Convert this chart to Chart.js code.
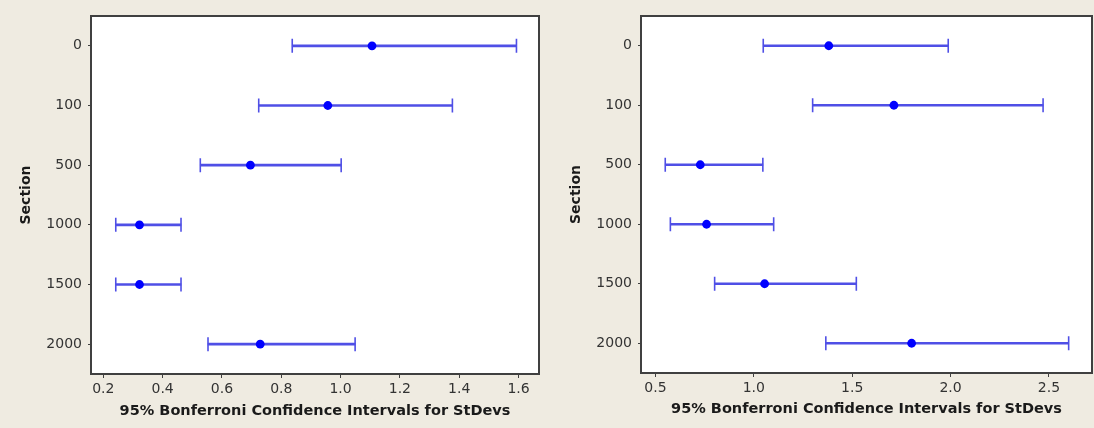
<!DOCTYPE html>
<html>
<head>
<meta charset="utf-8">
<script src="https://cdn.jsdelivr.net/npm/chart.js@4/dist/chart.umd.min.js"></script>
<style>
  html, body { margin: 0; padding: 0; background: #efebe1; }
  .panel { position: absolute; top: 0; width: 547px; height: 428px; }
  #left { left: 0; }
  #right { left: 547px; }
</style>
</head>
<body>
<div class="panel" id="left"><canvas id="chartLeft"></canvas></div>
<div class="panel" id="right"><canvas id="chartRight"></canvas></div>
<script>
const sections = ["0", "100", "500", "1000", "1500", "2000"];

// left panel
const leftLower = [0.837, 0.724, 0.527, 0.242, 0.242, 0.553];
const leftStdev = [1.106, 0.957, 0.696, 0.322, 0.322, 0.729];
const leftUpper = [1.593, 1.377, 1.002, 0.462, 0.462, 1.049];
const leftTicks = [0.2, 0.4, 0.6, 0.8, 1.0, 1.2, 1.4, 1.6];

// right panel
const rightLower = [1.048, 1.299, 0.550, 0.576, 0.801, 1.366];
const rightStdev = [1.381, 1.712, 0.728, 0.760, 1.055, 1.802];
const rightUpper = [1.988, 2.470, 1.046, 1.101, 1.521, 2.600];
const rightTicks = [0.5, 1.0, 1.5, 2.0, 2.5];

const lineColor = "#4f4fe6";
const dotColor = "#0000ff";
const axisColor = "#404040";
const fontFamily = "'DejaVu Sans', Verdana, sans-serif";

// white plot area with a dark frame
const framePlugin = {
  id: "frame",
  beforeDraw(chart) {
    const {ctx, chartArea: a} = chart;
    ctx.save();
    ctx.fillStyle = "#ffffff";
    ctx.fillRect(a.left, a.top, a.right - a.left, a.bottom - a.top);
    ctx.restore();
  },
  afterDraw(chart) {
    const {ctx, chartArea: a} = chart;
    ctx.save();
    ctx.strokeStyle = axisColor;
    ctx.lineWidth = 2;
    ctx.strokeRect(a.left, a.top, a.right - a.left, a.bottom - a.top);
    ctx.restore();
  }
};

function makeChart(id, lower, stdev, upper, ticks, xMin, xMax, geo) {
  const pts = vals => vals.map((v, i) => ({x: v, y: sections[i]}));
  return new Chart(document.getElementById(id), {
    type: "bar",
    data: {
      labels: sections,
      datasets: [
        {
          type: "line",
          data: pts(stdev),
          showLine: false,
          pointStyle: "circle",
          pointRadius: 4.4,
          pointBackgroundColor: dotColor,
          pointBorderWidth: 0,
          order: 0
        },
        {
          type: "line",
          data: pts(lower).concat(pts(upper)),
          showLine: false,
          pointStyle: "line",
          pointRotation: 90,
          pointRadius: 7,
          pointBorderColor: lineColor,
          pointBorderWidth: 1.6,
          order: 1
        },
        {
          data: lower.map((lo, i) => [lo, upper[i]]),
          backgroundColor: lineColor,
          borderWidth: 0,
          barThickness: 2,
          order: 2
        }
      ]
    },
    options: {
      indexAxis: "y",
      responsive: true,
      maintainAspectRatio: false,
      animation: false,
      layout: {
        autoPadding: false,
        padding: {top: geo.top, right: geo.right, left: 0, bottom: 0}
      },
      scales: {
        x: {
          type: "linear",
          min: xMin,
          max: xMax,
          afterBuildTicks: s => { s.ticks = ticks.map(v => ({value: v})); },
          afterFit: s => {
            s.height = geo.xHeight;
            s.paddingLeft = 0;
            s.paddingRight = 0;
          },
          grid: {drawOnChartArea: false, drawTicks: true, tickLength: 4, color: axisColor},
          border: {display: false},
          ticks: {
            color: "#333333",
            padding: 3,
            maxRotation: 0,
            font: {family: fontFamily, size: 14},
            callback: v => v.toFixed(1)
          },
          title: {
            display: true,
            text: "95% Bonferroni Confidence Intervals for StDevs",
            color: "#1a1a1a",
            font: {family: fontFamily, size: 14.5, weight: "bold"},
            padding: {top: 0, bottom: geo.xTitlePad}
          }
        },
        y: {
          type: "category",
          offset: true,
          afterFit: s => { s.width = geo.yWidth; },
          grid: {offset: false, drawOnChartArea: false, drawTicks: true, tickLength: 3, color: axisColor},
          border: {display: false},
          ticks: {
            color: "#333333",
            padding: 6,
            font: {family: fontFamily, size: 14}
          },
          title: {
            display: true,
            text: "Section",
            color: "#1a1a1a",
            font: {family: fontFamily, size: 14, weight: "bold"},
            padding: {top: geo.yTitlePad, bottom: 0}
          }
        }
      },
      plugins: {
        legend: {display: false},
        tooltip: {enabled: false}
      }
    },
    plugins: [framePlugin]
  });
}

makeChart("chartLeft", leftLower, leftStdev, leftUpper, leftTicks, 0.1585, 1.669,
  {top: 16, right: 8, xHeight: 54, yWidth: 91, xTitlePad: 8, yTitlePad: 18});
makeChart("chartRight", rightLower, rightStdev, rightUpper, rightTicks, 0.4268, 2.7186,
  {top: 16, right: 2, xHeight: 55, yWidth: 94, xTitlePad: 10, yTitlePad: 21});
</script>
</body>
</html>
